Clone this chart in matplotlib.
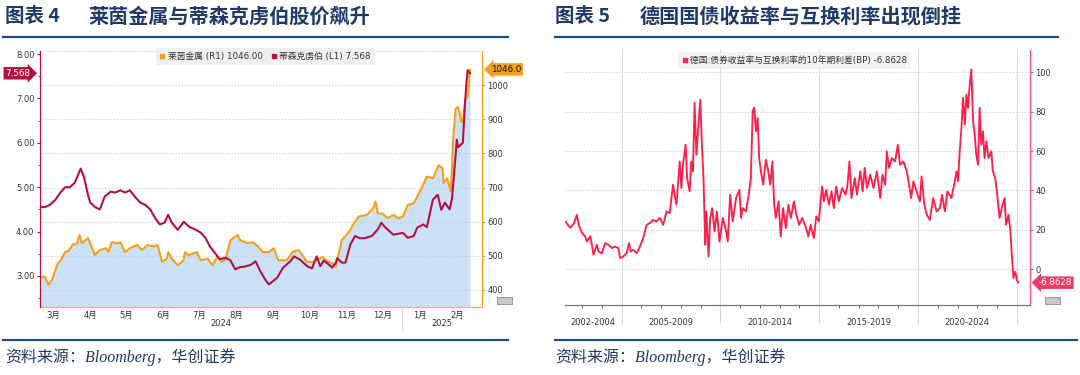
import numpy as np
import pandas as pd
import matplotlib
matplotlib.use("Agg")
import matplotlib.pyplot as plt
import matplotlib.dates as mdates
from matplotlib.lines import Line2D
from matplotlib.patches import Rectangle
from matplotlib.transforms import blended_transform_factory as blend

plt.rcParams['font.family'] = ['DejaVu Sans', 'Noto Sans CJK SC']

# ---------------- data: chart 4 ----------------
tk_dates = ['2024-03-05', '2024-03-09', '2024-03-13', '2024-03-18', '2024-03-22', '2024-03-26', '2024-03-30',
            '2024-04-03', '2024-04-08', '2024-04-11', '2024-04-14', '2024-04-16', '2024-04-20', '2024-04-24',
            '2024-04-28', '2024-05-03', '2024-05-07', '2024-05-11', '2024-05-15', '2024-05-19', '2024-05-24',
            '2024-05-28', '2024-06-01', '2024-06-05', '2024-06-09', '2024-06-13', '2024-06-17', '2024-06-20',
            '2024-06-23', '2024-06-28', '2024-07-03', '2024-07-08', '2024-07-13', '2024-07-17', '2024-07-21',
            '2024-07-25', '2024-07-29', '2024-08-02', '2024-08-07', '2024-08-11', '2024-08-15', '2024-08-19',
            '2024-08-23', '2024-08-28', '2024-09-01', '2024-09-05', '2024-09-09', '2024-09-12', '2024-09-14',
            '2024-09-19', '2024-09-24', '2024-09-30', '2024-10-03', '2024-10-08', '2024-10-14', '2024-10-18',
            '2024-10-22', '2024-10-25', '2024-10-28', '2024-11-04', '2024-11-07', '2024-11-08', '2024-11-12',
            '2024-11-15', '2024-11-19', '2024-11-23', '2024-11-27', '2024-12-01', '2024-12-07', '2024-12-12',
            '2024-12-15', '2024-12-18', '2024-12-25', '2025-01-02', '2025-01-06', '2025-01-11', '2025-01-14',
            '2025-01-19', '2025-01-22', '2025-01-27', '2025-01-31', '2025-02-03', '2025-02-06', '2025-02-10',
            '2025-02-12', '2025-02-16', '2025-02-17', '2025-02-21', '2025-02-23', '2025-02-24', '2025-02-25',
            '2025-02-27']
tk_vals = [4.56, 4.55, 4.60, 4.72, 4.88, 5.00, 5.00,
           5.10, 5.42, 5.20, 4.83, 4.65, 4.55, 4.50,
           4.79, 4.90, 4.88, 4.93, 4.88, 4.93, 4.76,
           4.65, 4.60, 4.50, 4.31, 4.16, 4.20, 4.38,
           4.20, 4.04, 4.22, 4.10, 4.04, 3.98, 3.86,
           3.66, 3.52, 3.38, 3.41, 3.35, 3.15, 3.20,
           3.21, 3.25, 3.33, 3.10, 2.92, 2.81, 2.85,
           2.96, 3.19, 3.33, 3.44, 3.37, 3.22, 3.17,
           3.44, 3.22, 3.35, 3.19, 3.30, 3.40, 3.30,
           3.30, 3.70, 3.90, 3.85, 3.85, 3.90, 4.05,
           4.20, 4.10, 3.93, 3.97, 3.86, 3.90, 4.09,
           4.16, 4.10, 4.72, 4.83, 4.49, 4.65, 4.50,
           4.75, 6.07, 5.90, 6.00, 6.97, 7.35, 7.64,
           7.568]

rh_dates = ['2024-03-05', '2024-03-09', '2024-03-12', '2024-03-15', '2024-03-20', '2024-03-22', '2024-03-26',
            '2024-03-29', '2024-04-01', '2024-04-05', '2024-04-07', '2024-04-09', '2024-04-14', '2024-04-20',
            '2024-04-24', '2024-04-29', '2024-05-01', '2024-05-04', '2024-05-09', '2024-05-11', '2024-05-15',
            '2024-05-19', '2024-05-25', '2024-05-29', '2024-06-03', '2024-06-08', '2024-06-11', '2024-06-15',
            '2024-06-19', '2024-06-20', '2024-06-23', '2024-06-28', '2024-07-03', '2024-07-04', '2024-07-07',
            '2024-07-14', '2024-07-17', '2024-07-23', '2024-07-27', '2024-07-31', '2024-08-04', '2024-08-07',
            '2024-08-11', '2024-08-17', '2024-08-19', '2024-08-25', '2024-08-30', '2024-09-03', '2024-09-07',
            '2024-09-12', '2024-09-16', '2024-09-20', '2024-09-27', '2024-10-02', '2024-10-07', '2024-10-10',
            '2024-10-14', '2024-10-19', '2024-10-27', '2024-10-29', '2024-11-01', '2024-11-05', '2024-11-07',
            '2024-11-09', '2024-11-12', '2024-11-17', '2024-11-19', '2024-11-22', '2024-11-26', '2024-12-03',
            '2024-12-08', '2024-12-10', '2024-12-12', '2024-12-16', '2024-12-20', '2024-12-25', '2024-12-29',
            '2025-01-02', '2025-01-06', '2025-01-11', '2025-01-15', '2025-01-22', '2025-01-27', '2025-02-01',
            '2025-02-04', '2025-02-05', '2025-02-08', '2025-02-11', '2025-02-13', '2025-02-15', '2025-02-17',
            '2025-02-20', '2025-02-21', '2025-02-23', '2025-02-25', '2025-02-26', '2025-02-27']
rh_vals = [435, 440, 415, 430, 479, 485, 511,
           515, 532, 537, 561, 537, 552, 502,
           517, 522, 512, 540, 537, 540, 511,
           522, 532, 517, 532, 527, 532, 482,
           492, 511, 492, 472, 487, 511, 502,
           511, 487, 492, 472, 497, 482, 492,
           546, 561, 546, 537, 540, 527, 511,
           511, 522, 487, 487, 512, 517, 502,
           482, 482, 497, 490, 482, 477, 468,
           502, 546, 566, 575, 595, 615, 620,
           639, 659, 624, 624, 610, 620, 610,
           615, 649, 654, 680, 732, 727, 766,
           756, 713, 727, 688, 848, 931, 936,
           892, 892, 960, 965, 1004, 1046]

month_labels = ['3月', '4月', '5月', '6月', '7月', '8月', '9月', '10月', '11月', '12月', '1月', '2月']
year_labels = ['2024', '2025']
legend4 = ['莱茵金属 (R1) 1046.00', '蒂森克虏伯 (L1) 7.568']

# ---------------- data: chart 5 ----------------
spread_years = [2002.15, 2002.40, 2002.57, 2002.73, 2002.82, 2002.99, 2003.15, 2003.24, 2003.41, 2003.49,
                2003.57, 2003.74, 2003.83, 2003.99, 2004.16, 2004.33, 2004.50, 2004.66, 2004.83, 2004.92,
                2005.08, 2005.25, 2005.37, 2005.45, 2005.59, 2005.76, 2005.92, 2006.09, 2006.26, 2006.43,
                2006.59, 2006.76, 2006.93, 2007.10, 2007.27, 2007.43, 2007.60, 2007.68, 2007.77, 2007.85,
                2007.94, 2008.02, 2008.10, 2008.24, 2008.31, 2008.44, 2008.52, 2008.61, 2008.69, 2008.78,
                2008.86, 2008.98, 2009.06, 2009.14, 2009.23, 2009.28, 2009.40, 2009.48, 2009.58, 2009.70,
                2009.82, 2009.95, 2010.12, 2010.29, 2010.37, 2010.49, 2010.62, 2010.79, 2010.96, 2011.04,
                2011.12, 2011.29, 2011.43, 2011.54, 2011.63, 2011.71, 2011.80, 2011.88, 2011.96, 2012.05,
                2012.16, 2012.30, 2012.42, 2012.52, 2012.63, 2012.72, 2012.80, 2012.94, 2013.05, 2013.17,
                2013.31, 2013.44, 2013.56, 2013.72, 2013.84, 2013.98, 2014.14, 2014.31, 2014.45, 2014.56,
                2014.73, 2014.85, 2014.98, 2015.07, 2015.15, 2015.23, 2015.35, 2015.49, 2015.62, 2015.74,
                2015.86, 2015.99, 2016.16, 2016.33, 2016.43, 2016.53, 2016.63, 2016.80, 2016.91, 2017.08,
                2017.20, 2017.30, 2017.42, 2017.58, 2017.75, 2017.92, 2018.09, 2018.20, 2018.34, 2018.42,
                2018.54, 2018.67, 2018.84, 2018.98, 2019.09, 2019.26, 2019.43, 2019.55, 2019.65, 2019.77,
                2019.93, 2020.10, 2020.18, 2020.32, 2020.44, 2020.60, 2020.77, 2020.94, 2021.11, 2021.22,
                2021.36, 2021.49, 2021.69, 2021.83, 2021.95, 2022.03, 2022.11, 2022.20, 2022.28, 2022.37,
                2022.45, 2022.53, 2022.62, 2022.70, 2022.79, 2022.87, 2022.95, 2023.04, 2023.12, 2023.20,
                2023.29, 2023.37, 2023.46, 2023.57, 2023.71, 2023.79, 2023.91, 2024.01, 2024.13, 2024.24,
                2024.38, 2024.46, 2024.58, 2024.68, 2024.75, 2024.83, 2024.92, 2025.00, 2025.08]
spread_bp = [24.0, 21.0, 23.0, 27.6, 22.5, 18.3, 16.6, 14.0, 16.6, 12.4,
             7.3, 12.4, 9.0, 8.0, 13.2, 12.4, 10.7, 11.5, 10.7, 5.6,
             6.4, 8.1, 13.2, 9.0, 9.8, 8.1, 11.5, 15.8, 22.5, 23.4,
             25.0, 24.2, 26.0, 22.5, 29.3, 28.5, 42.9, 37.8, 32.7, 42.9,
             54.7, 41.2, 53.0, 63.2, 46.3, 39.5, 54.7, 49.7, 84.4, 58.1,
             70.0, 86.1, 63.2, 46.3, 12.4, 29.3, 6.4, 26.0, 31.0, 19.2,
             29.3, 14.0, 26.0, 19.2, 14.0, 37.8, 24.2, 36.1, 40.3, 26.0,
             31.0, 29.3, 37.8, 46.3, 80.2, 82.0, 70.0, 76.8, 56.4, 49.7,
             42.9, 55.6, 49.7, 42.9, 54.7, 32.7, 26.0, 34.4, 16.6, 31.0,
             20.8, 32.7, 26.0, 34.4, 27.6, 22.5, 26.0, 21.7, 16.6, 22.5,
             15.8, 26.8, 24.2, 34.4, 42.0, 34.4, 40.3, 32.7, 39.5, 31.0,
             42.0, 34.4, 41.2, 37.8, 42.9, 54.7, 36.1, 46.3, 37.8, 49.7,
             39.5, 51.4, 41.2, 48.0, 41.2, 49.7, 36.1, 48.0, 42.9, 59.8,
             51.4, 56.4, 54.7, 63.2, 53.0, 54.7, 49.7, 42.9, 36.1, 44.6,
             39.5, 34.4, 47.1, 32.7, 27.6, 25.0, 36.1, 29.3, 31.0, 37.8,
             29.3, 39.5, 36.1, 42.9, 49.7, 44.6, 59.8, 71.7, 87.0, 73.4,
             88.6, 81.9, 93.7, 101.4, 75.1, 68.3, 58.1, 53.0, 81.9, 63.2,
             70.0, 56.4, 64.9, 56.4, 59.8, 49.7, 46.3, 37.8, 26.0, 31.0,
             36.1, 22.5, 27.6, 19.2, 7.3, -4.6, -1.2, -5.4, -6.8628]
period_labels = ['2002-2004', '2005-2009', '2010-2014', '2015-2019', '2020-2024']
legend5 = '德国:债券收益率与互换利率的10年期利差(BP) -6.8628'

# ---------------- styling ----------------
W, H = 1080, 375
NAVY = '#1F3A68'
LINE_BLUE = '#1F4E8C'
CRIMSON = '#B3123F'
ORANGE = '#F5A01A'
FILL = '#CBE1F7'
RED5 = '#FF1F4B'
TXT = '#333333'
GRID = '#C9C9C9'
CJK = ['Noto Sans CJK SC']


def fy(py):
    return 1 - py / H


fig = plt.figure(figsize=(W / 100, H / 100), dpi=100)
fig.patch.set_facecolor('white')

# titles / frames
fig.text(5 / W, fy(16), '图表 4', family=CJK, weight='bold', fontsize=14, color=NAVY, va='center')
fig.text(88 / W, fy(16), '莱茵金属与蒂森克虏伯股价飙升', family=CJK, weight='bold', fontsize=14.5,
         color=NAVY, va='center')
fig.text(555 / W, fy(16), '图表 5', family=CJK, weight='bold', fontsize=14, color=NAVY, va='center')
fig.text(640 / W, fy(16), '德国国债收益率与互换利率出现倒挂', family=CJK, weight='bold', fontsize=14.5,
         color=NAVY, va='center')
for x0, x1, y in [(3, 508, 37), (3, 508, 339.5), (555, 1058, 37), (555, 1077, 339.5)]:
    fig.add_artist(Line2D([x0 / W, x1 / W], [fy(y), fy(y)], color=LINE_BLUE, lw=1.6))
src = '资料来源：Bloomberg，华创证券'
fig.text(5 / W, fy(357), src, family=['Liberation Serif', 'Noto Sans CJK SC'], style='italic',
         fontsize=11.5, color=NAVY, va='center')
fig.text(555 / W, fy(357), src, family=['Liberation Serif', 'Noto Sans CJK SC'], style='italic',
         fontsize=11.5, color=NAVY, va='center')

# ---------------- chart 4 ----------------
axL = fig.add_axes([40 / W, fy(307), 442 / W, 256 / H])
axR = axL.twinx()
axL.set_zorder(axR.get_zorder() + 1)
axL.patch.set_visible(False)

tkd = pd.to_datetime(tk_dates)
rhd = pd.to_datetime(rh_dates)
x0 = pd.Timestamp('2024-03-05')
x1 = pd.Timestamp('2025-03-09')

axR.fill_between(rhd, rh_vals, 350, color=FILL, lw=0, zorder=1)
axR.plot(rhd, rh_vals, color=ORANGE, lw=1.5, zorder=2)
axL.plot(tkd, tk_vals, color=CRIMSON, lw=1.5, zorder=3)

axL.set_xlim(x0, x1)
axL.set_ylim(2.30, 8.07)
axR.set_ylim(350, 1100)

# y axes
axL.set_yticks([3, 4, 5, 6, 7, 8])
axL.set_yticklabels([f'{v:.2f}' for v in [3, 4, 5, 6, 7, 8]])
axL.set_yticks(np.arange(2.5, 8.0, 1.0), minor=True)
axL.tick_params(axis='y', which='major', length=2.5, width=0.8, color=CRIMSON, labelsize=6,
                labelcolor=TXT, pad=1.5)
axL.tick_params(axis='y', which='minor', length=1.5, width=0.6, color=CRIMSON)
axR.set_yticks([400, 500, 600, 700, 800, 900, 1000])
axR.set_yticks([1100], minor=True)
axR.tick_params(axis='y', which='major', length=2.5, width=0.8, color=ORANGE, labelsize=6,
                labelcolor=TXT, pad=1.5)
axR.tick_params(axis='y', which='minor', length=0)

for s in ['top', 'right', 'bottom']:
    axL.spines[s].set_visible(False)
axL.spines['left'].set_color(CRIMSON)
axL.spines['left'].set_linewidth(0.9)
axR.spines['left'].set_visible(False)
axR.spines['top'].set_visible(False)
axR.spines['right'].set_color(ORANGE)
axR.spines['right'].set_linewidth(0.9)
axR.spines['bottom'].set_color('#F2B350')
axR.spines['bottom'].set_linewidth(0.9)

# x axis: grid at month starts, labels mid-month
month_starts = pd.date_range('2024-04-01', '2025-03-01', freq='MS')
label_pos = pd.date_range('2024-03-01', '2025-02-01', freq='MS') + pd.Timedelta(days=15)
axL.set_xticks(month_starts)
axL.set_xticklabels([])
axL.set_xticks(label_pos, minor=True)
axL.set_xticklabels(month_labels, minor=True)
axL.tick_params(axis='x', which='both', length=0, labelsize=6, labelcolor=TXT, pad=2.5)
axR.tick_params(axis='x', which='both', length=0)

axR.set_axisbelow('line')
axR.grid(axis='y', which='both', ls=':', color=GRID, lw=0.8)
axR.grid(axis='x', which='major', ls='-', color='#DDDDDD', lw=0.8)

# year labels centred over the visible span of each year
yb = pd.Timestamp('2025-01-01')
trL = blend(axL.transData, axL.transAxes)
spans = [(x0, yb), (yb, x1)]
for lab, (a, b) in zip(year_labels, spans):
    c = a + (b - a) / 2
    axL.text(c, -0.065, lab, transform=trL, ha='center', va='center', fontsize=6, color=TXT)
axL.plot([yb, yb], [0, -0.09], transform=trL, color='#DDDDDD', lw=0.8, clip_on=False)

# legend
h4 = [Line2D([], [], marker='s', ls='', color=ORANGE, markersize=3.5),
      Line2D([], [], marker='s', ls='', color=CRIMSON, markersize=3.5)]
lg = axL.legend(h4, legend4, loc='upper left', bbox_to_anchor=(0.262, 1.012), ncol=2,
                frameon=True, fancybox=False, facecolor='#EFEFEF', edgecolor='none',
                fontsize=6.3, handlelength=0.6, handletextpad=0.3, columnspacing=1.0,
                borderpad=0.45, borderaxespad=0.0)
for t in lg.get_texts():
    t.set_color(TXT)
lg.get_frame().set_alpha(1)

# value tags
axL.text(-0.022, tk_vals[-1], f'{tk_vals[-1]:.3f}', transform=blend(axL.transAxes, axL.transData),
         ha='right', va='center', fontsize=6.3, color='white', clip_on=False, zorder=10,
         bbox=dict(boxstyle='rarrow,pad=0.2', fc=CRIMSON, ec='none'))
axR.text(1.02, rh_vals[-1], f'{rh_vals[-1]:.1f}', transform=blend(axR.transAxes, axR.transData),
         ha='left', va='center', fontsize=6.3, color='#111111', clip_on=False, zorder=10,
         bbox=dict(boxstyle='larrow,pad=0.2', fc=ORANGE, ec='none'))

# ---------------- chart 5 ----------------
axS = fig.add_axes([565 / W, fy(305), 465 / W, 255 / H])
axS.plot(spread_years, spread_bp, color=RED5, lw=1.35, zorder=3)
axS.set_xlim(2002.13, 2025.67)
axS.set_ylim(-18.2, 111.3)

axS.yaxis.tick_right()
axS.set_yticks([0, 20, 40, 60, 80, 100])
axS.tick_params(axis='y', length=2.5, width=0.8, color='#F0507A', labelsize=6, labelcolor=TXT, pad=1.5)
axS.grid(axis='y', ls=':', color=GRID, lw=0.8)

bounds = [2005, 2010, 2015, 2020, 2025]
axS.set_xticks(bounds)
axS.set_xticklabels([])
axS.set_xticks(np.arange(2003, 2026, 1), minor=True)
axS.tick_params(axis='x', which='major', length=13, width=0.8, color='#D5D5D5', direction='out')
axS.tick_params(axis='x', which='minor', length=2, width=0.7, color='#666666', direction='out')
axS.grid(axis='x', which='major', ls='-', color='#DDDDDD', lw=0.8)
axS.set_axisbelow(True)

edges = [2002.13] + bounds
trS = blend(axS.transData, axS.transAxes)
for lab, a, b in zip(period_labels, edges[:-1], edges[1:]):
    axS.text((a + b) / 2, -0.07, lab, transform=trS, ha='center', va='center', fontsize=6, color=TXT)

axS.spines['left'].set_visible(False)
axS.spines['top'].set_visible(False)
axS.spines['right'].set_color('#F0507A')
axS.spines['right'].set_linewidth(0.9)
axS.spines['bottom'].set_color('#777777')
axS.spines['bottom'].set_linewidth(0.9)

h5 = [Line2D([], [], marker='s', ls='', color=RED5, markersize=3.5)]
lg5 = axS.legend(h5, [legend5], loc='upper left', bbox_to_anchor=(0.243, 0.992), frameon=True,
                 fancybox=False, facecolor='#EFEFEF', edgecolor='none', fontsize=6.3,
                 handlelength=0.6, handletextpad=0.3, borderpad=0.45, borderaxespad=0.0)
for t in lg5.get_texts():
    t.set_color(TXT)

axS.text(1.018, spread_bp[-1], f'{spread_bp[-1]:.4f}', transform=blend(axS.transAxes, axS.transData),
         ha='left', va='center', fontsize=6.3, color='white', clip_on=False, zorder=10,
         bbox=dict(boxstyle='larrow,pad=0.2', fc='#EE3A66', ec='none'))

# small Bloomberg icons
for (ix, iy) in [(497, 297), (1045, 297)]:
    fig.add_artist(Rectangle((ix / W, fy(iy + 7)), 15 / W, 7 / H, fc='#C8C8C8', ec='#8A8A8A', lw=0.6))

fig.savefig('out.png', dpi=100, facecolor='white')
